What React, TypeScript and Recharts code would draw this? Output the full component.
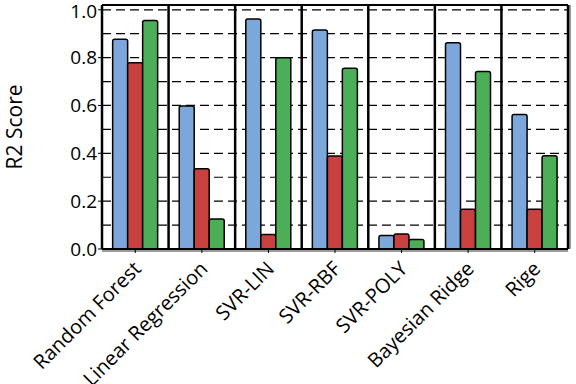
import React from 'react';
import { BarChart, Bar, XAxis, YAxis, CartesianGrid, ReferenceLine } from 'recharts';

const categories = [
  'Random Forest',
  'Linear Regression',
  'SVR-LIN',
  'SVR-RBF',
  'SVR-POLY',
  'Bayesian Ridge',
  'Rige',
];
const blueScores = [0.877, 0.598, 0.961, 0.915, 0.056, 0.862, 0.562];
const redScores = [0.779, 0.335, 0.061, 0.389, 0.063, 0.166, 0.166];
const greenScores = [0.955, 0.125, 0.8, 0.756, 0.04, 0.742, 0.39];
const yTicks = [0, 0.2, 0.4, 0.6, 0.8, 1.0];
const gridTicks = [0.1, 0.2, 0.3, 0.4, 0.5, 0.6, 0.7, 0.8, 0.9, 1.0];
const yMax = 1.02;

const data = categories.map((name, i) => ({
  name,
  blue: blueScores[i],
  red: redScores[i],
  green: greenScores[i],
}));

const FONT = '"Open Sans", "Noto Sans", sans-serif';

function AngledTick(props: any) {
  const { x, y, payload } = props;
  return (
    <g transform={`translate(${x + 7},${y + 15})`}>
      <text
        transform="rotate(-45)"
        textAnchor="end"
        fontSize={20}
        fontFamily={FONT}
        fill="#000"
      >
        {payload.value}
      </text>
    </g>
  );
}

export default function App() {
  return (
    <div style={{ position: 'absolute', left: 0, top: 0, background: '#fff' }}>
      <BarChart
        width={576}
        height={384}
        data={data}
        margin={{ top: 5, right: 8, bottom: 0, left: 0 }}
        barGap={0}
        barCategoryGap="16%"
      >
        <CartesianGrid
          vertical={false}
          stroke="#000"
          strokeWidth={1.2}
          strokeDasharray="9 5"
          horizontalCoordinatesGenerator={({ yAxis, offset }: any) =>
            gridTicks.map((v) =>
              yAxis && typeof yAxis.scale === 'function'
                ? yAxis.scale(v)
                : offset.top + offset.height * (1 - v / yMax)
            )
          }
        />
        {/* soft gray shadow along the right and bottom frame edges */}
        <CartesianGrid
          stroke="#9a9a9a"
          strokeWidth={2}
          horizontalCoordinatesGenerator={({ offset }: any) => [offset.top + offset.height + 2]}
          verticalCoordinatesGenerator={({ offset }: any) => [offset.left + offset.width + 2]}
        />
        <CartesianGrid
          horizontal={false}
          stroke="#000"
          strokeWidth={2.5}
          verticalCoordinatesGenerator={({ offset }: any) =>
            categories
              .map((_, i) => offset.left + (i * offset.width) / categories.length)
              .concat(offset.left + offset.width)
          }
        />
        <ReferenceLine y={yMax} stroke="#000" strokeWidth={2} />
        <XAxis
          dataKey="name"
          height={135}
          interval={0}
          tick={<AngledTick />}
          tickLine={{ stroke: '#000' }}
          tickSize={4}
          axisLine={{ stroke: '#000', strokeWidth: 2 }}
        />
        <YAxis
          width={102}
          domain={[0, yMax]}
          ticks={yTicks}
          tickFormatter={(v: number) => v.toFixed(1)}
          tick={{ fontSize: 19, fill: '#000', fontFamily: FONT }}
          tickLine={{ stroke: '#000' }}
          tickSize={4}
          tickMargin={1}
          axisLine={{ stroke: '#000', strokeWidth: 2 }}
          label={{
            value: 'R2 Score',
            angle: -90,
            position: 'insideLeft',
            offset: 15,
            fontSize: 21,
            fill: '#000',
            fontFamily: FONT,
            style: { fontSize: 21, fill: '#000', fontFamily: FONT, textAnchor: 'middle' },
          }}
        />
        <Bar dataKey="blue" fill="#7CA7DB" stroke="#000" strokeWidth={1.5} radius={[2, 2, 0, 0]} isAnimationActive={false} />
        <Bar dataKey="red" fill="#C9413F" stroke="#000" strokeWidth={1.5} radius={[2, 2, 0, 0]} isAnimationActive={false} />
        <Bar dataKey="green" fill="#4DAE58" stroke="#000" strokeWidth={1.5} radius={[2, 2, 0, 0]} isAnimationActive={false} />
      </BarChart>
    </div>
  );
}
